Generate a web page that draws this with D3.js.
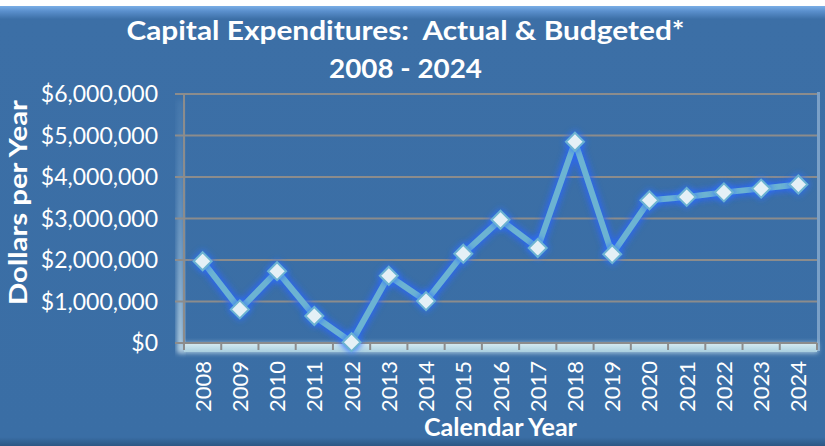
<!DOCTYPE html>
<html><head><meta charset="utf-8">
<script src="https://cdn.jsdelivr.net/npm/d3@7"></script>
<style>
html,body{margin:0;padding:0;background:#fff;}
svg{display:block;}
text{font-family:Lato,"Open Sans",sans-serif;fill:#fff;white-space:pre;}
</style></head>
<body>
<svg id="c" width="825" height="446"></svg>
<script>
const years = ["2008","2009","2010","2011","2012","2013","2014","2015","2016","2017","2018","2019","2020","2021","2022","2023","2024"];
const spending = [1970000,810000,1730000,650000,20000,1620000,1010000,2150000,2970000,2290000,4850000,2140000,3440000,3520000,3630000,3720000,3820000];
const yTicks = [0,1000000,2000000,3000000,4000000,5000000,6000000];
const titleLines = ["Capital Expenditures:  Actual & Budgeted*","2008 - 2024"];
const yTitle = "Dollars per Year";
const xTitle = "Calendar Year";

const W = 825, H = 446;
const svg = d3.select("#c");
const defs = svg.append("defs");

const bg = defs.append("linearGradient").attr("id","bg").attr("x1",0).attr("y1",0).attr("x2",0).attr("y2",1);
bg.append("stop").attr("offset","0%").attr("stop-color","#7aaee6");
bg.append("stop").attr("offset","1.2%").attr("stop-color","#5a8fcc");
bg.append("stop").attr("offset","3%").attr("stop-color","#3c6fa6");
bg.append("stop").attr("offset","98%").attr("stop-color","#3a6ea5");
bg.append("stop").attr("offset","100%").attr("stop-color","#2c5784");

const floorG = defs.append("linearGradient").attr("id","floor").attr("x1",0).attr("y1",0).attr("x2",0).attr("y2",1);
floorG.append("stop").attr("offset","0%").attr("stop-color","#d8ecf2");
floorG.append("stop").attr("offset","100%").attr("stop-color","#a9cfdf");

const wallG = defs.append("linearGradient").attr("id","wall").attr("x1",0).attr("y1",1).attr("x2",0).attr("y2",0);
wallG.append("stop").attr("offset","0%").attr("stop-color","#c9e0ec").attr("stop-opacity",0.9);
wallG.append("stop").attr("offset","60%").attr("stop-color","#8fb5d6").attr("stop-opacity",0.5);
wallG.append("stop").attr("offset","100%").attr("stop-color","#6f9cc8").attr("stop-opacity",0.2);

const glow = defs.append("filter").attr("id","glow").attr("x","-20%").attr("y","-20%").attr("width","140%").attr("height","140%");
glow.append("feGaussianBlur").attr("stdDeviation",3);

const soft = defs.append("filter").attr("id","soft").attr("x","-20%").attr("y","-50%").attr("width","140%").attr("height","200%");
soft.append("feGaussianBlur").attr("stdDeviation",2.5);

svg.append("rect").attr("x",0).attr("y",0).attr("width",W).attr("height",H).attr("fill","#fff");
svg.append("rect").attr("x",0).attr("y",6).attr("width",W).attr("height",H-6).attr("fill","url(#bg)");

const m = {left:184, right:817, top:94, bottom:343};
const x = d3.scaleBand().domain(years).range([m.left,m.right]).padding(0);
const y = d3.scaleLinear().domain([0,6000000]).range([m.bottom,m.top]);

svg.append("rect").attr("x",m.left-7).attr("y",m.top+6).attr("width",7).attr("height",m.bottom-m.top+4)
  .attr("fill","url(#wall)").attr("filter","url(#soft)");
svg.append("rect").attr("x",m.right).attr("y",m.top-2).attr("width",3).attr("height",m.bottom-m.top+10)
  .attr("fill","#86a9cc").attr("opacity",0.85);

svg.append("rect").attr("x",m.left-2).attr("y",m.bottom).attr("width",m.right-m.left+3).attr("height",10)
  .attr("fill","#cfe6ef").attr("filter","url(#soft)").attr("opacity",0.8);
svg.append("rect").attr("x",m.left).attr("y",m.bottom).attr("width",m.right-m.left).attr("height",9)
  .attr("fill","url(#floor)");

svg.append("g").selectAll("line").data(yTicks).join("line")
  .attr("x1",m.left-9).attr("x2",m.right).attr("y1",d=>y(d)).attr("y2",d=>y(d))
  .attr("stroke","#8c8c8c").attr("stroke-width",2);

svg.append("line").attr("x1",m.left).attr("x2",m.left).attr("y1",m.top).attr("y2",m.bottom)
  .attr("stroke","#8c8c8c").attr("stroke-width",2);

const xtickPos = years.map(d=>x(d)).concat([m.right]);
svg.append("g").selectAll("line").data(xtickPos).join("line")
  .attr("x1",d=>d).attr("x2",d=>d).attr("y1",m.bottom).attr("y2",m.bottom+7)
  .attr("stroke","#8c8c8c").attr("stroke-width",2);

const fmt = v => "$" + d3.format(",")(v);
svg.append("g").selectAll("text").data(yTicks).join("text")
  .attr("x",158).attr("y",d=>y(d)+8).attr("text-anchor","end")
  .attr("font-size",23).attr("fill","#f2f6fa").text(fmt);

svg.append("g").selectAll("text").data(years).join("text")
  .attr("transform",d=>`translate(${x(d)+x.bandwidth()/2+8},361) rotate(-90)`)
  .attr("text-anchor","end").attr("font-size",22).attr("fill","#f2f6fa").text(d=>d);

const titleLen = [558,153];
svg.append("g").selectAll("text").data(titleLines).join("text")
  .attr("x",405.5).attr("y",(d,i)=>40+i*38).attr("text-anchor","middle")
  .attr("font-size",27).attr("font-weight","bold")
  .attr("textLength",(d,i)=>titleLen[i]).attr("lengthAdjust","spacingAndGlyphs").text(d=>d);

svg.append("text").attr("transform","translate(27,202.5) rotate(-90)").attr("text-anchor","middle")
  .attr("font-size",24).attr("font-weight","bold")
  .attr("textLength",205).attr("lengthAdjust","spacingAndGlyphs").text(yTitle);

svg.append("text").attr("x",(m.left+m.right)/2).attr("y",436).attr("text-anchor","middle")
  .attr("font-size",24).attr("font-weight","bold")
  .attr("textLength",153).attr("lengthAdjust","spacingAndGlyphs").text(xTitle);

const pts = years.map((d,i)=>[x(d)+x.bandwidth()/2, y(spending[i])]);
const lineGen = d3.line();
svg.append("path").attr("d",lineGen(pts)).attr("fill","none").attr("stroke","#2a66ff")
  .attr("stroke-width",11).attr("stroke-linejoin","round").attr("opacity",0.8).attr("filter","url(#glow)");
svg.append("path").attr("d",lineGen(pts)).attr("fill","none").attr("stroke","#6cb3d2")
  .attr("stroke-width",6).attr("stroke-linejoin","round");

const diamond = s => `M0,${-s}L${s},0L0,${s}L${-s},0Z`;
svg.append("g").selectAll("path").data(pts).join("path")
  .attr("transform",d=>`translate(${d[0]},${d[1]})`).attr("d",diamond(12))
  .attr("fill","#2f72ff").attr("opacity",0.75).attr("filter","url(#glow)");
svg.append("g").selectAll("path").data(pts).join("path")
  .attr("transform",d=>`translate(${d[0]},${d[1]})`).attr("d",diamond(9))
  .attr("fill","#e4f0f6").attr("stroke","#6cb3d2").attr("stroke-width",2);
</script>
</body></html>
